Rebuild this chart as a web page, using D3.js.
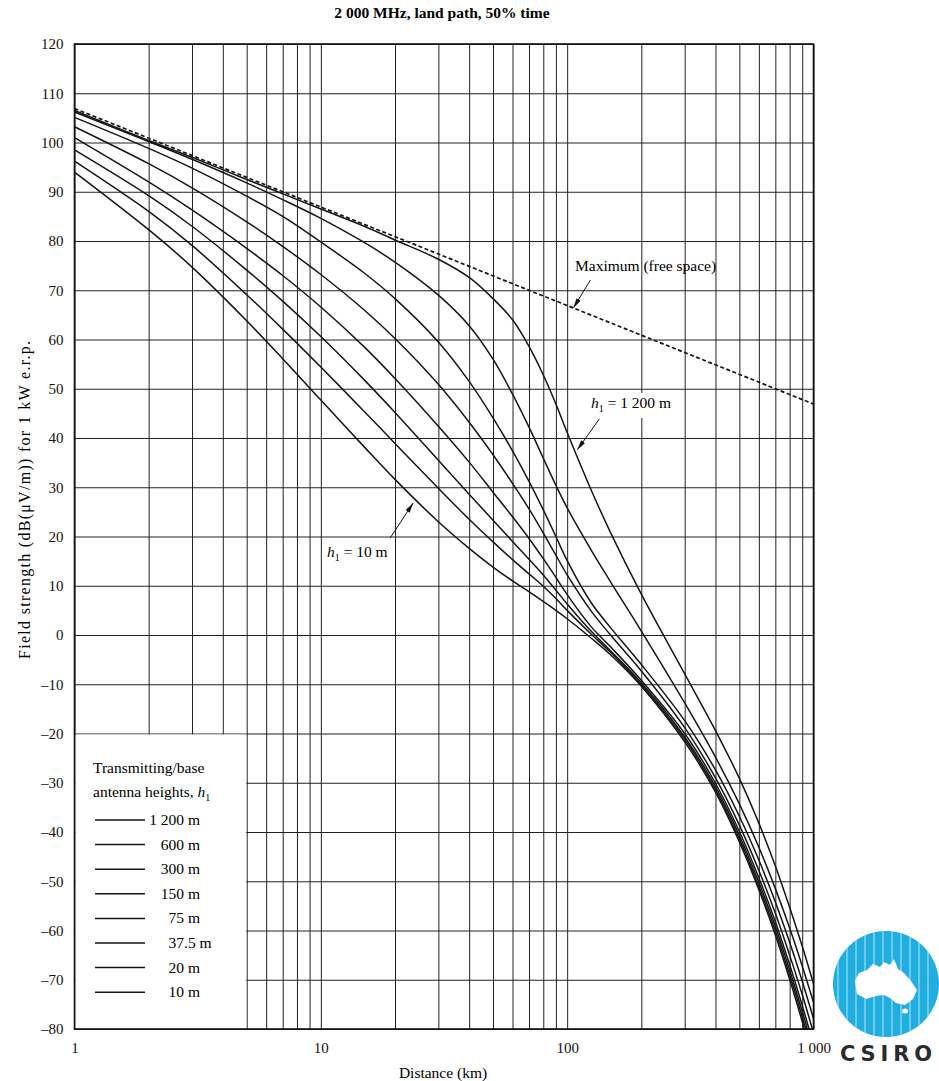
<!DOCTYPE html>
<html>
<head>
<meta charset="utf-8">
<title>2 000 MHz, land path, 50% time</title>
<style>
body {margin:0;background:#fff;}
svg text {font-family:"Liberation Serif","Times New Roman",serif;}
</style>
</head>
<body>
<svg id="chart" width="939" height="1081"></svg>
<script src="https://cdn.jsdelivr.net/npm/d3@7/dist/d3.min.js"></script>
<script>
var distances = [1, 2, 3, 5, 7, 10, 15, 20, 30, 40, 50, 60, 70, 80, 90, 100, 125, 150, 200, 300, 400, 500, 600, 700, 800, 900, 1000];

// transmitting/base antenna heights h1 (m)
var heights = [1200, 600, 300, 150, 75, 37.5, 20, 10];

// field strength dB(uV/m) for 1 kW e.r.p., one list per height
var field1200 = [106.5, 100.4, 97.0, 92.5, 89.6, 86.5, 83.0, 80.2, 76.3, 72.6, 68.3, 64.0, 58.6, 52.8, 46.9, 41.1, 29.5, 20.8, 8.3, -7.9, -19.4, -29.1, -38.2, -46.9, -55.3, -63.2, -70.8];
var field600  = [106.2, 100.2, 96.6, 91.8, 88.4, 84.6, 79.7, 75.7, 69.0, 62.8, 56.0, 48.9, 42.2, 35.9, 30.4, 25.8, 17.3, 10.8, 0.8, -13.8, -24.8, -34.3, -43.1, -51.5, -59.5, -67.2, -74.6];
var field300  = [105.1, 98.8, 94.8, 89.1, 85.0, 79.8, 73.5, 68.3, 59.5, 51.5, 44.1, 37.4, 31.2, 25.4, 20.0, 15.1, 6.6, 1.5, -6.0, -17.4, -27.4, -36.8, -45.7, -54.2, -62.4, -70.3, -77.9];
var field150  = [103.2, 95.7, 90.8, 83.9, 78.9, 73.2, 66.0, 60.2, 50.9, 43.2, 36.6, 30.8, 25.6, 20.7, 16.2, 12.2, 4.9, 0.0, -7.3, -18.8, -29.0, -38.6, -47.8, -56.5, -65.0, -73.0, -80.8];
var field75   = [101.0, 92.0, 86.3, 78.5, 73.0, 66.6, 58.5, 52.1, 42.4, 35.1, 29.0, 24.0, 19.6, 15.5, 11.7, 8.2, 1.7, -2.4, -9.2, -20.0, -30.1, -39.9, -49.3, -58.2, -66.9, -75.2, -83.2];
var field37_5 = [98.5, 89.2, 83.0, 74.1, 67.8, 60.6, 51.8, 45.2, 35.5, 28.6, 23.3, 19.0, 15.4, 12.2, 9.1, 6.3, 0.8, -3.2, -9.7, -20.7, -30.8, -40.7, -50.2, -59.2, -68.0, -76.4, -84.5];
var field20   = [96.2, 86.0, 79.1, 69.1, 62.1, 54.4, 45.4, 38.9, 29.8, 23.5, 18.9, 15.3, 12.4, 9.9, 7.4, 5.0, 0.2, -3.5, -10.1, -21.2, -31.4, -41.4, -51.0, -60.1, -69.0, -77.5, -85.7];
var field10   = [94.0, 82.3, 74.7, 63.8, 56.1, 47.7, 38.2, 31.6, 23.0, 17.6, 13.8, 11.0, 8.8, 6.8, 5.0, 3.3, -0.6, -4.0, -10.4, -21.7, -31.9, -42.0, -51.7, -60.9, -69.9, -78.5, -86.8];

// free space maximum
var freeSpaceDist  = [1, 10, 100, 1000];
var freeSpaceField = [106.9, 86.9, 66.9, 46.9];

// axis ticks
var xLabelTicks = [1, 10, 100, 1000];
var yTicks = [-80, -70, -60, -50, -40, -30, -20, -10, 0, 10, 20, 30, 40, 50, 60, 70, 80, 90, 100, 110, 120];

var fields = [field1200, field600, field300, field150, field75, field37_5, field20, field10];
var series = heights.map(function(h, i){
    return {h: h, points: distances.map(function(d, j){ return [d, fields[i][j]]; })};
});
var freeSpace = freeSpaceDist.map(function(d, i){ return [d, freeSpaceField[i]]; });

var plotL = 74.5, plotR = 813.5, plotT = 44, plotB = 1029;
var x = d3.scaleLog().domain([1, 1000]).range([plotL, plotR]);
var y = d3.scaleLinear().domain([-80, 120]).range([plotB, plotT]);

var svg = d3.select("#chart");
svg.append("rect").attr("width", 939).attr("height", 1081).attr("fill", "#fff");

function groupDigits(n){ return String(n).replace(/\B(?=(\d{3})+(?!\d))/g, " "); }
function dash(v){ return v < 0 ? "\u2013" + Math.abs(v) : String(v); }

// grid
var gx = svg.append("g").attr("transform", "translate(0," + plotB + ")")
    .call(d3.axisBottom(x).tickValues(x.ticks()).tickSize(-(plotB - plotT)).tickFormat(""));
gx.select(".domain").remove();
gx.selectAll("line").attr("stroke", "#222").attr("stroke-width", 1);

var gy = svg.append("g").attr("transform", "translate(" + plotL + ",0)")
    .call(d3.axisLeft(y).tickValues(yTicks).tickSize(-(plotR - plotL)).tickFormat(""));
gy.select(".domain").remove();
gy.selectAll("line").attr("stroke", "#222").attr("stroke-width", 1);

// legend box covers the grid in the lower left corner
svg.append("rect")
    .attr("x", x(1) + 1).attr("y", y(-20) + 1)
    .attr("width", x(5) - x(1) - 1.5).attr("height", y(-80) - y(-20) - 1)
    .attr("fill", "#fff");

// curves
svg.append("clipPath").attr("id", "plotclip").append("rect")
    .attr("x", plotL).attr("y", plotT).attr("width", plotR - plotL).attr("height", plotB - plotT);

var line = d3.line()
    .x(function(d){ return x(d[0]); })
    .y(function(d){ return y(d[1]); })
    .curve(d3.curveCatmullRom.alpha(0.5));

var curves = svg.append("g").attr("clip-path", "url(#plotclip)");
curves.selectAll("path.h").data(series).enter().append("path")
    .attr("class", "h")
    .attr("d", function(d){ return line(d.points); })
    .attr("fill", "none").attr("stroke", "#151515").attr("stroke-width", 1.5);

curves.append("path")
    .attr("d", d3.line().x(function(d){ return x(d[0]); }).y(function(d){ return y(d[1]); })(freeSpace))
    .attr("fill", "none").attr("stroke", "#151515").attr("stroke-width", 1.7)
    .attr("stroke-dasharray", "4,2.5");

// frame
svg.append("rect").attr("x", plotL).attr("y", plotT)
    .attr("width", plotR - plotL).attr("height", plotB - plotT)
    .attr("fill", "none").attr("stroke", "#111").attr("stroke-width", 1.6);

// tick labels
var ax = svg.append("g").attr("transform", "translate(0," + plotB + ")")
    .call(d3.axisBottom(x).tickValues(xLabelTicks).tickSize(0).tickPadding(13)
        .tickFormat(function(d){ return groupDigits(d); }));
ax.select(".domain").remove();
ax.attr("font-size", 15).selectAll("text").attr("fill", "#111");

var ay = svg.append("g").attr("transform", "translate(" + plotL + ",0)")
    .call(d3.axisLeft(y).tickValues(yTicks).tickSize(0).tickPadding(11).tickFormat(dash));
ay.select(".domain").remove();
ay.attr("font-size", 15).selectAll("text").attr("fill", "#111");

// titles
svg.append("text").attr("x", 442).attr("y", 18).attr("text-anchor", "middle")
    .attr("font-size", 15.5).attr("font-weight", "bold")
    .text("2 000 MHz, land path, 50% time");

svg.append("text").attr("x", 443).attr("y", 1078).attr("text-anchor", "middle")
    .attr("font-size", 15.5).text("Distance (km)");

svg.append("text").attr("transform", "translate(30,500) rotate(-90)")
    .attr("text-anchor", "middle").attr("font-size", 16)
    .attr("textLength", 318).attr("lengthAdjust", "spacing")
    .text("Field strength (dB(\u03bcV/m)) for 1 kW e.r.p.");

// annotations
var defs = svg.append("defs");
defs.append("marker").attr("id", "arrow").attr("viewBox", "0 0 10 6")
    .attr("refX", 10).attr("refY", 3).attr("markerWidth", 10).attr("markerHeight", 6)
    .attr("markerUnits", "userSpaceOnUse").attr("orient", "auto")
    .append("path").attr("d", "M0,0.6 L10,3 L0,5.4 Z").attr("fill", "#111");

function arrow(d, v, dx, dy){
    var tx = x(d), ty = y(v);
    svg.append("line")
        .attr("x1", tx + dx).attr("y1", ty + dy).attr("x2", tx).attr("y2", ty)
        .attr("stroke", "#111").attr("stroke-width", 1)
        .attr("marker-end", "url(#arrow)");
}

function h1Label(tx, ty, rest, bg){
    if (bg) {
        svg.append("rect").attr("x", tx - 4).attr("y", ty - 15)
            .attr("width", 90).attr("height", 25).attr("fill", "#fff");
    }
    var t = svg.append("text").attr("x", tx).attr("y", ty).attr("font-size", 15.5);
    t.append("tspan").attr("font-style", "italic").text("h");
    t.append("tspan").attr("font-size", 10).attr("dy", 4).text("1");
    t.append("tspan").attr("dy", -4).text(rest);
}

svg.append("text").attr("x", 575).attr("y", 271).attr("font-size", 15.5)
    .text("Maximum (free space)");
arrow(106, 66.4, 17, -28);

h1Label(591, 408, " = 1 200 m", true);
arrow(110, 37.6, 22, -31);

h1Label(327, 557, " = 10 m", false);
arrow(23.7, 26.8, -23, 35);

// legend
var lg = svg.append("g");
lg.append("text").attr("x", 93).attr("y", 773).attr("font-size", 15.5).text("Transmitting/base");
var lt = lg.append("text").attr("x", 93).attr("y", 797).attr("font-size", 15.5).text("antenna heights, ");
lt.append("tspan").attr("font-style", "italic").text("h");
lt.append("tspan").attr("font-size", 10).attr("dy", 4).text("1");

var rows = lg.selectAll("g.row").data(heights).enter().append("g")
    .attr("class", "row")
    .attr("transform", function(d, i){ return "translate(0," + (820 + i * 24.6) + ")"; });
rows.append("line").attr("x1", 95).attr("x2", 145).attr("y1", 0).attr("y2", 0)
    .attr("stroke", "#151515").attr("stroke-width", 1.5);
rows.append("text").attr("x", 184).attr("y", 5).attr("text-anchor", "end").attr("font-size", 15.5)
    .text(function(d){ return groupDigits(Math.floor(d)); });
rows.append("text").attr("x", 184).attr("y", 5).attr("font-size", 15.5)
    .text(function(d){ return (d % 1 ? String(d % 1).slice(1) : "") + "\u00a0m"; });

// CSIRO logo
var logo = svg.append("g").attr("transform", "translate(886,984)");
logo.append("clipPath").attr("id", "logoclip").append("circle").attr("r", 53);
logo.append("circle").attr("r", 53).attr("fill", "#20addf");
logo.append("path")
    .attr("d", "M-31,-3 L-27,-11 L-19,-14 L-13,-20 L-6,-17 L-2,-22 L4,-19 L8,-25 L12,-15 L18,-11 L25,-3 L31,6 L27,15 L19,21 L10,19 L4,14 L-2,11 L-10,12 L-20,15 L-29,10 Z")
    .attr("fill", "#fff");
logo.append("ellipse").attr("cx", 19).attr("cy", 27).attr("rx", 3).attr("ry", 2.5).attr("fill", "#fff");
var stripes = logo.append("g").attr("clip-path", "url(#logoclip)");
d3.range(-48, 50, 9).forEach(function(sx){
    stripes.append("line").attr("x1", sx).attr("x2", sx).attr("y1", -55).attr("y2", 55)
        .attr("stroke", "#fff").attr("stroke-opacity", 0.35).attr("stroke-width", 2);
});
svg.append("text").attr("x", 840).attr("y", 1061)
    .attr("font-size", 21).attr("font-weight", "bold").attr("fill", "#2b2b2b")
    .attr("textLength", 92).attr("lengthAdjust", "spacing")
    .style("font-family", "'DejaVu Sans', sans-serif")
    .text("CSIRO");
</script>
</body>
</html>
